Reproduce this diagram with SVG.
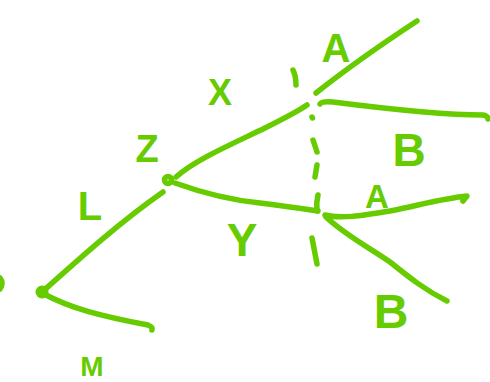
<svg xmlns="http://www.w3.org/2000/svg" width="490" height="382" viewBox="0 0 490 382">
<style>
.s{fill:none;stroke:#66CC00;stroke-width:5.5;stroke-linecap:round;stroke-linejoin:round}
.t{fill:#66CC00;font-family:"Liberation Sans",Arial,sans-serif;font-weight:bold;text-anchor:middle}
</style>
<rect width="490" height="382" fill="#ffffff"/>
<g id="connectors">
<path class="s" d="M42,292 C 80,258 120,222 163,192"/>
<path class="s" d="M44,294 C 70,308 100,316 148,325 Q 153,327 152,330"/>
<path class="s" d="M176,177 C 195,160 230,145 265,128 C 285,118 297,112 307,105"/>
<path class="s" d="M175,183 C 200,192 230,200 260,203 C 285,206 305,209 318,211"/>
<path class="s" d="M316,93 C 350,66 385,42 417,21"/>
<path class="s" d="M320,104 Q 322,101 333,102 C 380,108 440,115 483,115 Q 488,116 488,119"/>
<path class="s" d="M325,215 C 340,219 360,216 390,211 C 420,205 445,198 467,196 L 463,201"/>
<path class="s" d="M326,217 C 345,235 370,248 390,262 C 410,278 425,290 447,301"/>
<g id="dashed-cut">
<path class="s" d="M293,70 Q 296,76 296,85"/>
<path class="s" d="M312,117 L 312.5,118"/>
<path class="s" d="M313,140 L 317,152"/>
<path class="s" d="M317,165 L 315,177"/>
<path class="s" d="M318,195 Q 316,203 317,211"/>
<path class="s" d="M312,238 L 317,264"/>
</g>
<path class="s" d="M0,278 Q 4,283 0,289"/>
</g>
<g id="node-L"><circle cx="42" cy="292" r="6.5" fill="#66CC00"/></g>
<g id="node-Z"><circle class="s" cx="168" cy="180" r="3.5"/></g>
<g id="labels">
<text class="t" x="336" y="62" font-size="40">A</text>
<text class="t" x="220" y="105" font-size="36">X</text>
<text class="t" x="409" y="166" font-size="46">B</text>
<text class="t" x="147" y="162" font-size="38">Z</text>
<text class="t" x="90" y="220" font-size="40">L</text>
<text class="t" x="377" y="208" font-size="33">A</text>
<text class="t" x="242" y="256" font-size="46">Y</text>
<text class="t" x="391" y="328" font-size="48">B</text>
<text class="t" x="92" y="376" font-size="28">M</text>
</g>
</svg>
